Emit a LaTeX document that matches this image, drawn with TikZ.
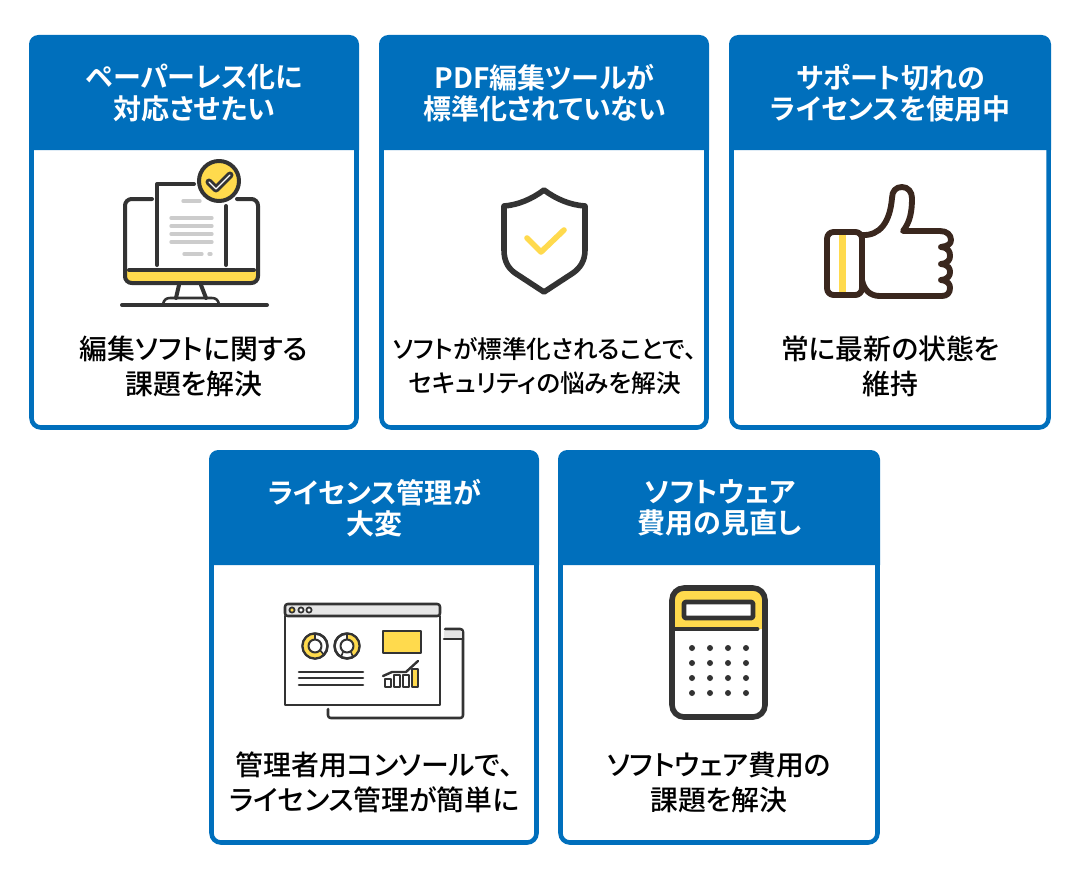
\documentclass[tikz,border=0pt]{standalone}
\usepackage{fontspec}
\newfontfamily\cjk[RawFeature=+palt]{Noto Sans CJK JP Medium}
\newfontfamily\cjkhead[RawFeature=+palt]{Noto Sans CJK JP Bold}
\definecolor{cardblue}{HTML}{006FBC}
\definecolor{iconyellow}{HTML}{FFDA4D}
\definecolor{icondark}{HTML}{333333}
\definecolor{iconbrown}{HTML}{3A271E}
\definecolor{icongray}{HTML}{CCCCCC}
\definecolor{barfill}{HTML}{E6E6E6}
\begin{document}
\begin{tikzpicture}[x=0.75pt,y=0.75pt,yscale=-1,xscale=1,
  cardbox/.style={draw=cardblue,line width=3.4pt,fill=white,rounded corners=7pt},
  cardhead/.style={fill=cardblue},
  headtext/.style={text=white,align=center,font=\cjkhead\fontsize{21}{23.4}\selectfont,inner sep=0pt},
  bodytext/.style={text=black,align=center,font=\cjk\fontsize{20.9}{26.2}\selectfont,inner sep=0pt},
  iconline/.style={draw=icondark,line width=3pt,line cap=round,line join=round},
  thinline/.style={draw=icondark,line width=1.9pt,line cap=round,line join=round},
  grayline/.style={draw=icongray,line width=2.5pt,line cap=round},
  brownline/.style={draw=iconbrown,line width=4.4pt,line cap=round,line join=round}]
\useasboundingbox (0,0) rectangle (1080,874);

% Cards
\draw [cardbox] (31.5,37.5) rectangle (356.5,427.5);
\fill [cardhead] (29,150) [rounded corners=7pt] -- (29,35) -- (359,35) [sharp corners] -- (359,150) -- cycle;
\draw [cardbox] (381.5,37.5) rectangle (706.5,427.5);
\fill [cardhead] (379,150) [rounded corners=7pt] -- (379,35) -- (709,35) [sharp corners] -- (709,150) -- cycle;
\draw [cardbox] (731.5,37.5) rectangle (1048.5,427.5);
\fill [cardhead] (729,150) [rounded corners=7pt] -- (729,35) -- (1051,35) [sharp corners] -- (1051,150) -- cycle;
\draw [cardbox] (211.5,452.5) rectangle (536.5,842.5);
\fill [cardhead] (209,565) [rounded corners=7pt] -- (209,450) -- (539,450) [sharp corners] -- (539,565) -- cycle;
\draw [cardbox] (560.5,452.5) rectangle (877.5,842.5);
\fill [cardhead] (558,565) [rounded corners=7pt] -- (558,450) -- (880,450) [sharp corners] -- (880,565) -- cycle;

% Headings
\node [headtext] (headpaper) at (194.5,93) {ペーパーレス化に\\対応させたい};
\node [headtext] (headpdf) at (544.5,93) {PDF編集ツールが\\標準化されていない};
\node [headtext] (headsupport) at (890.5,93) {サポート切れの\\ライセンスを使用中};
\node [headtext] (headlicense) at (374.5,508) {ライセンス管理が\\大変};
\node [headtext] (headcost) at (720,508) {ソフトウェア\\費用の見直し};

% Captions
\node [bodytext] (textpaper) at (194,366) {編集ソフトに関する\\課題を解決};
\node [bodytext,font=\cjk\fontsize{18.5}{26.2}\selectfont] (textpdf) at (545,366) {ソフトが標準化されることで、\\セキュリティの悩みを解決};
\node [bodytext] (textsupport) at (890.5,366) {常に最新の状態を\\維持};
\node [bodytext] (textlicense) at (374.5,782) {管理者用コンソールで、\\ライセンス管理が簡単に};
\node [bodytext] (textcost) at (719,782) {ソフトウェア費用の\\課題を解決};

% Monitor icon
\fill [iconyellow] (125,270) -- (258,270) -- (258,276) [rounded corners=5pt] -- (258,283) -- (125,283) [sharp corners] -- cycle;
\draw [iconline] (152,199) [rounded corners=5pt] -- (125,199) -- (125,283) -- (258,283) -- (258,199) -- (237,199);
\draw [iconline] (129,270) -- (254,270);
\draw [iconline] (157,265) -- (157,184) -- (194,184);
\draw [iconline] (226,206) -- (226,265);
\draw [iconline] (179,285) -- (176,298);
\draw [iconline] (201,285) -- (206,298);
\draw [thinline] (163,304) .. controls (164,300) and (166,298) .. (170,298) -- (212,298) .. controls (216,298) and (218,300) .. (219,304);
\draw [iconline] (122,305) -- (267,305);
\draw [grayline] (183,201) -- (200,201);
\draw [grayline] (171,218) -- (212,218);
\draw [grayline] (171,226) -- (212,226);
\draw [grayline] (171,234) -- (212,234);
\draw [grayline] (171,242) -- (212,242);
\draw [grayline] (184,254) -- (202,254);
\draw [grayline] (209,254) -- (211,254);
\draw [iconline,fill=iconyellow] (219,181) circle [radius=20];
\draw [draw=icondark,line width=5.2pt,line join=round,line cap=round] (209,182) -- (216,189) -- (230,175);
\draw [draw=white,line width=0.9pt,line join=round,line cap=round] (209,182) -- (216,189) -- (230,175);

% Shield icon
\draw [iconline,line width=4.2pt] (544,190) .. controls (532,199) and (518,205) .. (504,206) -- (504,250) .. controls (504,261) and (508,268) .. (515,273) -- (544,292) -- (573,273) .. controls (580,268) and (585,261) .. (585,250) -- (585,206) .. controls (570,205) and (556,199) .. (544,190) -- cycle;
\draw [draw=iconyellow,line width=4.2pt,line cap=round,line join=round] (527,238) -- (541,252) -- (564,230);

% Thumb icon
\fill [iconyellow] (839,233) rectangle (846,294);
\draw [brownline] (862,243) [rounded corners=5pt] -- (862,232) -- (827,232) -- (827,295) -- (862,295) -- (862,280);
\draw [brownline] (862,235) .. controls (880,236) and (890,222) .. (892,198) .. controls (892,191) and (896,187) .. (902,187) .. controls (908,187) and (912,192) .. (912,198) .. controls (912,212) and (910,222) .. (903,231) -- (940,231) .. controls (947,231) and (951,235) .. (951,240) .. controls (951,244) and (948,246) .. (941,247) .. controls (949,248) and (950,252) .. (950,256) .. controls (950,260) and (948,263) .. (941,264) .. controls (949,265) and (950,269) .. (950,272) .. controls (950,276) and (948,279) .. (941,280) .. controls (948,281) and (950,284) .. (950,288) .. controls (950,293) and (947,296) .. (942,296) -- (880,296) .. controls (870,296) and (864,290) .. (862,280) -- (862,235);

% Console icon
\draw [thinline] (445,629) -- (460,629) [rounded corners=2pt] -- (463,629) -- (463,718) -- (328,718) [sharp corners] -- (328,709);
\fill [barfill] (444,631) rectangle (462,639);
\draw [thinline] (444,639) -- (463,639);
\draw [thinline,fill=white] (285,616) -- (285,705) -- (440,705) -- (440,616) -- cycle;
\draw [thinline,fill=barfill,rounded corners=2pt] (285,616) -- (285,604) -- (440,604) -- (440,616) -- cycle;
\draw [draw=icondark,line width=1.3pt,fill=iconyellow] (292,610) circle [radius=2.6];
\draw [draw=icondark,line width=1.3pt,fill=white] (301,610) circle [radius=2.6];
\draw [draw=icondark,line width=1.3pt,fill=white] (309,610) circle [radius=2.6];
\draw [thinline,fill=white] (315,646) circle [radius=12.5];
\fill [iconyellow] (315,633.5) arc [start angle=-90,end angle=-310,radius=12.5] -- (319.5,650) arc [start angle=50,end angle=270,radius=6.5] -- cycle;
\draw [thinline,line width=1.5pt] (315,646) circle [radius=12.5];
\draw [thinline,line width=1.5pt] (315,646) circle [radius=6.5];
\draw [thinline,line width=1.2pt] (315,633.5) -- (315,639.5);
\draw [thinline,line width=1.2pt] (320,650) -- (324,655);
\draw [thinline,fill=white] (347,646) circle [radius=12.5];
\fill [iconyellow] (347,633.5) arc [start angle=-90,end angle=60,radius=12.5] -- (351,652) arc [start angle=60,end angle=-90,radius=6.5] -- cycle;
\draw [thinline,line width=1.5pt] (347,646) circle [radius=12.5];
\draw [thinline,line width=1.5pt] (347,646) circle [radius=6.5];
\draw [thinline,line width=1.2pt] (347,633.5) -- (347,639.5);
\draw [thinline,line width=1.2pt] (343,652) -- (341,657);
\draw [thinline,line width=1.2pt] (351,652) -- (353,657);
\draw [thinline] (299,672) -- (363,672);
\draw [thinline] (299,678) -- (363,678);
\draw [thinline] (299,685) -- (363,685);
\draw [thinline,fill=iconyellow] (383,631) rectangle (421,653);
\draw [thinline,line width=1.8pt,fill=white] (385,679) rectangle (391,687);
\draw [thinline,line width=1.8pt,fill=white] (394,675) rectangle (400,687);
\draw [thinline,line width=1.8pt,fill=white] (403,675) rectangle (409,687);
\draw [thinline,line width=1.8pt,fill=iconyellow] (412,669) rectangle (418,687);
\draw [thinline,line width=1.8pt] (383,676) -- (392,672) -- (406,672) -- (418,661);

% Calculator icon
\fill [iconyellow] (672,629) -- (672,600) [rounded corners=9pt] -- (672,587) -- (765,587) [sharp corners] -- (765,629) -- cycle;
\draw [iconline,line width=4.2pt,rounded corners=9pt] (672,588) rectangle (765,717);
\draw [iconline,line width=3.6pt] (672,629) -- (757,629);
\draw [iconline,line width=3.6pt,fill=white,rounded corners=1.5pt] (684,602) rectangle (753,618);
\fill [icondark] (692,648) circle [radius=3];
\fill [icondark] (710,648) circle [radius=3];
\fill [icondark] (728,648) circle [radius=3];
\fill [icondark] (746,648) circle [radius=3];
\fill [icondark] (692,663) circle [radius=3];
\fill [icondark] (710,663) circle [radius=3];
\fill [icondark] (728,663) circle [radius=3];
\fill [icondark] (746,663) circle [radius=3];
\fill [icondark] (692,678) circle [radius=3];
\fill [icondark] (710,678) circle [radius=3];
\fill [icondark] (728,678) circle [radius=3];
\fill [icondark] (746,678) circle [radius=3];
\fill [icondark] (692,693) circle [radius=3];
\fill [icondark] (710,693) circle [radius=3];
\fill [icondark] (728,693) circle [radius=3];
\fill [icondark] (746,693) circle [radius=3];

\end{tikzpicture}
\end{document}
